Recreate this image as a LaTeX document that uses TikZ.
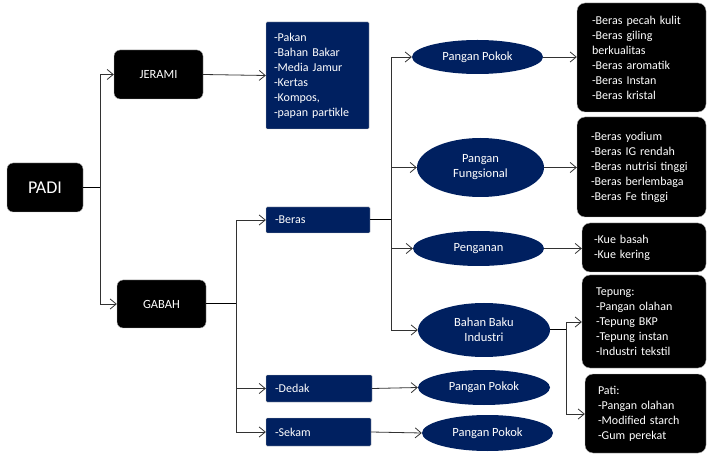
\documentclass[tikz,border=0pt]{standalone}
\usepackage{fontspec}
\setmainfont{Carlito}
\usetikzlibrary{arrows.meta,shapes.geometric}
\definecolor{navy}{RGB}{0,32,96}
\definecolor{linec}{RGB}{50,50,50}
\tikzset{
  blk/.style={fill=black, draw=gray!60, line width=0.4pt, rounded corners=8pt, text=white, align=left, inner ysep=0pt, font=\fontsize{12}{15}\selectfont},
  blu/.style={fill=navy, draw=gray!50, line width=0.4pt, rounded corners=1pt, text=white, align=left, inner ysep=0pt, font=\fontsize{12}{15}\selectfont},
  top/.style={fill=black, draw=gray!60, line width=0.4pt, rounded corners=6pt, text=white, align=center, inner sep=0pt},
  ell/.style={ellipse, fill=navy, text=white, align=center, inner sep=0pt, font=\fontsize{12.5}{15}\selectfont},
  conn/.style={draw=linec, line width=0.8pt, -{Straight Barb[length=6pt,width=10pt]}},
  trunk/.style={draw=black, line width=1pt},
}
\begin{document}
\begin{tikzpicture}[x=1pt,y=-1pt]
\useasboundingbox (0,0) rectangle (707,454);
% left column
\node[top, minimum width=76pt, minimum height=49pt, font=\fontsize{18}{20}\selectfont] (padi) at (45,187.5) {PADI};
\node[top, minimum width=89pt, minimum height=49pt, font=\fontsize{12.5}{14}\selectfont] (jerami) at (158.5,74.5) {JERAMI};
\node[top, minimum width=89pt, minimum height=48pt, font=\fontsize{12.5}{14}\selectfont] (gabah) at (161.5,304) {GABAH};
% blue boxes
\node[blu, inner xsep=8pt, text width=87pt, minimum height=107pt] (jprod) at (317.5,75.5) {-Pakan\\-Bahan Bakar\\-Media Jamur\\-Kertas\\-Kompos,\\-papan partikle\\[3pt]};
\node[blu, inner xsep=9pt, text width=86pt, minimum height=26pt] (beras) at (318,220) {-Beras};
\node[blu, inner xsep=9pt, text width=88pt, minimum height=27pt] (dedak) at (319,388.5) {-Dedak};
\node[blu, inner xsep=9pt, text width=87pt, minimum height=28pt] (sekam) at (318.5,432) {-Sekam};
% ellipses
\node[ell, minimum width=131pt, minimum height=34pt] (e1) at (477.5,57) {Pangan Pokok};
\node[ell, minimum width=127pt, minimum height=59pt] (e2) at (480.5,167.5) {Pangan\\Fungsional};
\node[ell, minimum width=131pt, minimum height=35pt] (e3) at (478.5,248.5) {Penganan};
\node[ell, minimum width=132pt, minimum height=54pt] (e4) at (484,330) {Bahan Baku\\Industri};
\node[ell, minimum width=132pt, minimum height=35pt] (e5) at (484,387.5) {Pangan Pokok};
\node[ell, minimum width=131pt, minimum height=36pt] (e6) at (487.5,433) {Pangan Pokok};
% black result boxes
\node[blk, inner xsep=15pt, text width=99pt, minimum height=109pt] (b1) at (641.5,57.5) {-Beras pecah kulit\\-Beras giling\\berkualitas\\-Beras aromatik\\-Beras Instan\\-Beras kristal};
\node[blk, inner xsep=14pt, text width=101pt, minimum height=100pt] (b2) at (641.5,167) {-Beras yodium\\-Beras IG rendah\\-Beras nutrisi tinggi\\-Beras berlembaga\\-Beras Fe tinggi};
\node[blk, inner xsep=12pt, text width=100pt, minimum height=49pt] (b3) at (644,247.5) {-Kue basah\\-Kue kering};
\node[blk, inner xsep=14pt, text width=96pt, minimum height=93pt] (b4) at (644,321.5) {Tepung:\\-Pangan olahan\\-Tepung BKP\\-Tepung instan\\-Industri tekstil};
\node[blk, inner xsep=13pt, text width=95pt, minimum height=79pt] (b5) at (645.5,413.5) {Pati:\\-Pangan olahan\\-Modified starch\\-Gum perekat};
% branch points
\coordinate (pb) at (100,187.5);
\coordinate (gb) at (236,304);
\coordinate (bb) at (391,220);
\coordinate (ib) at (566,330);
% connectors
\draw[trunk] (padi.east) -- (pb);
\draw[conn] (pb) |- (jerami.west);
\draw[conn] (pb) |- (gabah.west);
\draw[conn] (jerami.east) -- (jprod.west);
\draw[trunk] (gabah.east) -- (gb);
\draw[conn] (gb) |- (beras.west);
\draw[conn] (gb) |- (dedak.west);
\draw[conn] (gb) |- (sekam.west);
\draw[trunk] (beras.east) -- (bb);
\draw[conn] (bb) |- (e1.west);
\draw[conn] (bb) |- (e2.west);
\draw[conn] (bb) |- (e3.west);
\draw[conn] (bb) |- (e4.west);
\draw[conn] (e1.east) -- (b1.west |- e1.east);
\draw[conn] (e2.east) -- (b2.west |- e2.east);
\draw[conn] (e3.east) -- (b3.west |- e3.east);
\draw[trunk] (e4.east) -- (ib);
\draw[conn] (ib) |- (b4.west |- 0,322);
\draw[conn] (ib) |- (b5.west |- 0,414);
\draw[conn] (dedak.east) -- (e5.west);
\draw[conn] (sekam.east) -- (e6.west);
\end{tikzpicture}
\end{document}
